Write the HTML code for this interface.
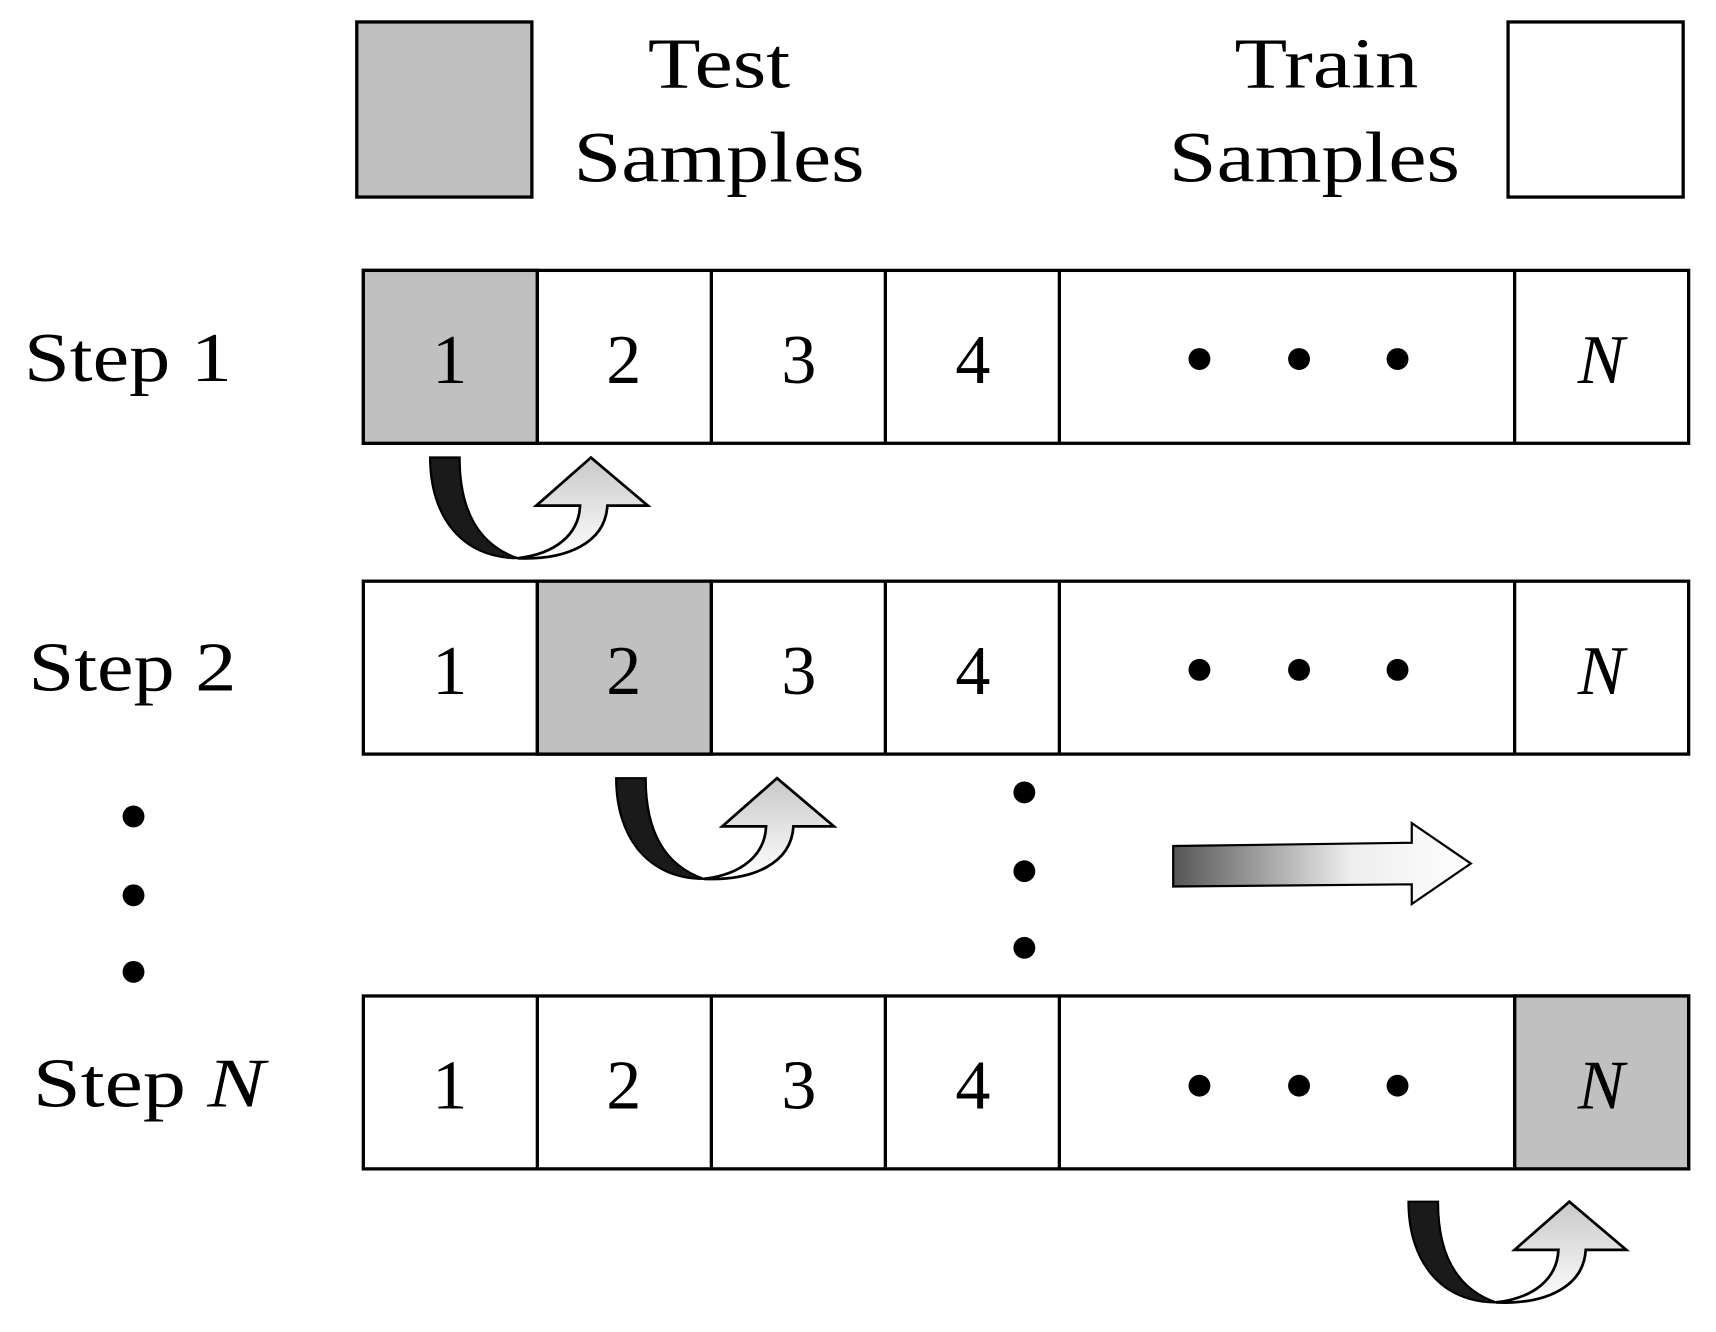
<!DOCTYPE html>
<html><head><style>html,body{margin:0;padding:0;background:#fff}svg{display:block}</style></head><body>
<svg width="1716" height="1332" viewBox="0 0 1568 1217" xmlns="http://www.w3.org/2000/svg" font-family="Liberation Serif, serif">
<defs>
<linearGradient id="wg" x1="0" y1="0" x2="0" y2="1"><stop offset="0" stop-color="#c8c8c8"/><stop offset="1" stop-color="#fff"/></linearGradient>
<linearGradient id="hg" x1="0" y1="0" x2="1" y2="0"><stop offset="0" stop-color="#555"/><stop offset="0.6" stop-color="#eee"/><stop offset="1" stop-color="#fff"/></linearGradient>
<g id="ca">
<path d="M0,0 L27,0 C27,50 45,80 80,92 C30,92 0,55 0,0 Z" fill="#1a1a1a" stroke="#000" stroke-width="2"/>
<path d="M80,92 C115,88 136,70 137,44 L97,44 L147,0 L199,44 L162,44 C160,78 125,94 80,92 Z" fill="url(#wg)" stroke="#000" stroke-width="2.5" stroke-linejoin="miter"/>
</g>
</defs>
<rect x="326" y="20" width="160" height="160" fill="#c0c0c0" stroke="#000" stroke-width="3"/>
<rect x="1378" y="20" width="160" height="160" fill="#fff" stroke="#000" stroke-width="3"/>
<g font-size="66" fill="#000" lengthAdjust="spacingAndGlyphs">
<text x="592" y="80" textLength="130" lengthAdjust="spacingAndGlyphs">Test</text>
<text x="524" y="166" textLength="266" lengthAdjust="spacingAndGlyphs">Samples</text>
<text x="1128" y="80" textLength="168" lengthAdjust="spacingAndGlyphs">Train</text>
<text x="1068" y="166" textLength="266" lengthAdjust="spacingAndGlyphs">Samples</text>
</g>
<g font-size="64" fill="#000">
<text x="22" y="348" textLength="190" lengthAdjust="spacingAndGlyphs">Step 1</text>
<text x="26" y="631" textLength="190" lengthAdjust="spacingAndGlyphs">Step 2</text>
<text x="30" y="1011" textLength="212" lengthAdjust="spacingAndGlyphs">Step <tspan font-style="italic">N</tspan></text>
</g>
<g stroke="#000" stroke-width="3" fill="#fff">
<rect x="332" y="247" width="1211" height="158"/>
<rect x="332" y="247" width="159" height="158" fill="#c0c0c0"/>
<rect x="332" y="531" width="1211" height="158"/>
<rect x="491" y="531" width="159" height="158" fill="#c0c0c0"/>
<rect x="332" y="910" width="1211" height="158"/>
<rect x="1384" y="910" width="159" height="158" fill="#c0c0c0"/>
<path d="M491,247V405M650,247V405M809,247V405M968,247V405M1384,247V405 M491,531V689M650,531V689M809,531V689M968,531V689M1384,531V689 M491,910V1068M650,910V1068M809,910V1068M968,910V1068M1384,910V1068"/>
</g>
<g font-size="64" text-anchor="middle" fill="#000">
<text x="411" y="350">1</text><text x="570" y="350">2</text><text x="730" y="350">3</text><text x="889" y="350">4</text><text x="1463" y="350" font-style="italic">N</text>
<text x="411" y="634">1</text><text x="570" y="634">2</text><text x="730" y="634">3</text><text x="889" y="634">4</text><text x="1463" y="634" font-style="italic">N</text>
<text x="411" y="1013">1</text><text x="570" y="1013">2</text><text x="730" y="1013">3</text><text x="889" y="1013">4</text><text x="1463" y="1013" font-style="italic">N</text>
</g>
<g fill="#000">
<circle cx="1096" cy="328" r="10"/><circle cx="1187" cy="328" r="10"/><circle cx="1277" cy="328" r="10"/>
<circle cx="1096" cy="612" r="10"/><circle cx="1187" cy="612" r="10"/><circle cx="1277" cy="612" r="10"/>
<circle cx="1096" cy="992" r="10"/><circle cx="1187" cy="992" r="10"/><circle cx="1277" cy="992" r="10"/>
<circle cx="122" cy="746" r="10"/><circle cx="122" cy="818" r="10"/><circle cx="122" cy="888" r="10"/>
<circle cx="936" cy="724" r="10"/><circle cx="936" cy="796" r="10"/><circle cx="936" cy="866" r="10"/>
</g>
<use href="#ca" x="393" y="418"/>
<use href="#ca" x="563" y="711"/>
<use href="#ca" x="1287" y="1098"/>
<path d="M1072,773 L1290,770 L1290,752 L1344,789 L1290,826 L1290,808 L1072,810 Z" fill="url(#hg)" stroke="#000" stroke-width="2"/>
</svg>
</body></html>
